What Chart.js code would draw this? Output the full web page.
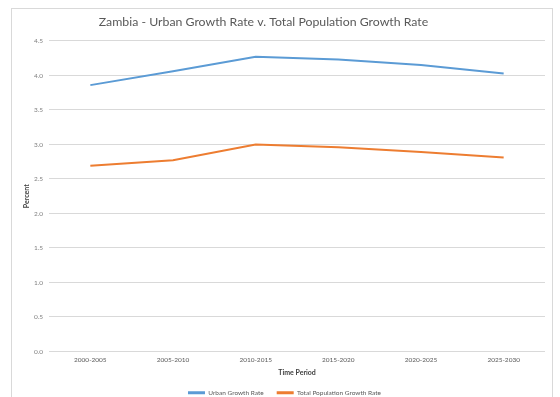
<!DOCTYPE html>
<html>
<head>
<meta charset="utf-8">
<script src="https://cdn.jsdelivr.net/npm/chart.js@4/dist/chart.umd.min.js"></script>
<style>
  html, body { margin: 0; padding: 0; background: #fff; }
  #wrap { position: relative; width: 560px; height: 397px; overflow: hidden; }
  #frame { position: absolute; left: 11px; top: 8px; width: 542px; height: 420px; border: 1px solid #d9d9d9; box-sizing: border-box; }
  canvas { position: absolute; left: 0; top: 0; }
</style>
</head>
<body>
<div id="wrap">
  <div id="frame"></div>
  <canvas id="c" width="560" height="397"></canvas>
</div>
<script>
const categories = ["2000-2005", "2005-2010", "2010-2015", "2015-2020", "2020-2025", "2025-2030"];
const urbanGrowthRate = [3.86, 4.06, 4.27, 4.23, 4.15, 4.03];
const totalPopulationGrowthRate = [2.69, 2.77, 3.00, 2.96, 2.89, 2.81];
const yTickMin = 0;
const yTickMax = 4.5;
const yTickStep = 0.5;

const FONT = "Lato, 'Open Sans', sans-serif";

const shiftPlugin = {
  id: 'shiftBlocks',
  afterLayout(chart) {
    if (chart.titleBlock) { chart.titleBlock.left -= 9; chart.titleBlock.right -= 9; }
    if (chart.legend) { chart.legend.left += 12; chart.legend.right += 12; }
  }
};

new Chart(document.getElementById('c'), {
  type: 'line',
  data: {
    labels: categories,
    datasets: [
      {
        label: 'Urban Growth Rate',
        data: urbanGrowthRate,
        borderColor: '#5B9BD5',
        backgroundColor: '#5B9BD5',
        borderWidth: 2,
        pointRadius: 0,
        tension: 0,
        fill: false
      },
      {
        label: 'Total Population Growth Rate',
        data: totalPopulationGrowthRate,
        borderColor: '#ED7D31',
        backgroundColor: '#ED7D31',
        borderWidth: 2,
        pointRadius: 0,
        tension: 0,
        fill: false
      }
    ]
  },
  options: {
    responsive: false,
    animation: false,
    devicePixelRatio: 1,
    layout: { padding: { left: 0, right: 15, top: 0, bottom: -9 } },
    plugins: {
      title: {
        display: true,
        text: 'Zambia - Urban Growth Rate v. Total Population Growth Rate',
        color: '#595959',
        font: { family: FONT, size: 12.3, weight: 'normal' },
        padding: { top: 15, bottom: 11.2 }
      },
      legend: {
        display: true,
        position: 'bottom',
        labels: {
          color: '#595959',
          font: { family: FONT, size: 6.5 },
          boxWidth: 17,
          boxHeight: 3,
          padding: 13,
          generateLabels(chart) {
            return Chart.defaults.plugins.legend.labels.generateLabels(chart).map(l => Object.assign(l, { lineWidth: 0 }));
          }
        }
      },
      tooltip: { enabled: false }
    },
    scales: {
      x: {
        offset: true,
        grid: { display: false, drawTicks: false },
        border: { display: false },
        ticks: { color: '#595959', font: { family: FONT, size: 6.5 }, padding: 5, maxRotation: 0, autoSkip: false },
        title: { display: true, text: 'Time Period', color: '#404040', font: { family: FONT, size: 7, weight: 'bold' }, padding: { top: 0, bottom: 0 } },
        afterFit(scale) { scale.height = 25; }
      },
      y: {
        min: yTickMin,
        max: yTickMax,
        grid: { color: '#d9d9d9', lineWidth: 1, drawTicks: false },
        border: { display: false },
        ticks: {
          stepSize: yTickStep,
          color: '#7f7f7f',
          font: { family: FONT, size: 6.5 },
          padding: 6,
          callback: v => Number(v).toFixed(1)
        },
        title: { display: true, text: 'Percent', color: '#404040', font: { family: FONT, size: 7, weight: 'bold' }, padding: { top: 23, bottom: 0 } },
        afterFit(scale) { scale.width = 49; }
      }
    }
  },
  plugins: [shiftPlugin]
});
</script>
</body>
</html>
